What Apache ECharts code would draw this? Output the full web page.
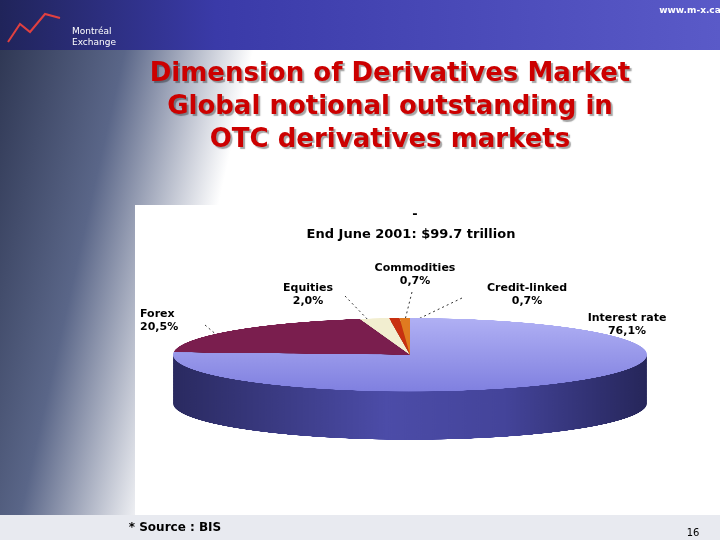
<!DOCTYPE html>
<html><head><meta charset="utf-8">
<script src="https://cdn.jsdelivr.net/npm/echarts@6/dist/echarts.min.js"></script>
<style>
body{margin:0;width:720px;height:540px;overflow:hidden;position:relative;background:#fff}
#bg{position:absolute;left:0;top:0;width:720px;height:540px}
#pie{position:absolute;left:0;top:316px;width:720px;height:1000px;transform:scaleY(0.155);transform-origin:0 0}
</style></head><body>
<div id="bg"></div><div id="pie"></div>
<script>
// data
let names = ['Interest rate', 'Forex', 'Equities', 'Commodities', 'Credit-linked']
let values = [76.1, 20.5, 2.0, 0.7, 0.7]
let labels = ['76,1%', '20,5%', '2,0%', '0,7%', '0,7%']
let topColors = ['#9494ec', '#7a1e4e', '#f2eed0', '#c83010', '#e07a20']
let sideColors = ['#3c3c8c', '#4a1030', '#b0aa88', '#801c08', '#a04e10']

let bg = echarts.init(document.getElementById('bg'))
let txt = (x, y, t, o) => Object.assign({type: 'text', x: x, y: y, style: Object.assign({text: t, fill: '#000', font: 'bold 11px "DejaVu Sans"', align: 'center', lineHeight: 13}, o || {})})
let dash = (x1, y1, x2, y2) => ({type: 'line', shape: {x1, y1, x2, y2}, style: {stroke: '#333', lineDash: [2, 3], lineWidth: 1}})
bg.setOption({
  graphic: [
    {type: 'rect', shape: {x: 0, y: 0, width: 720, height: 540}, style: {fill: new echarts.graphic.LinearGradient(0, 0, 1, 0.3, [{offset: 0, color: '#2c3450'}, {offset: 0.18, color: '#5a6688'}, {offset: 0.35, color: '#ffffff'}])}},
    {type: 'rect', shape: {x: 0, y: 0, width: 720, height: 50}, style: {fill: new echarts.graphic.LinearGradient(0, 0, 1, 0, [{offset: 0, color: '#20245a'}, {offset: 0.3, color: '#3a3aa8'}, {offset: 1, color: '#5a5ac8'}])}},
    {type: 'rect', shape: {x: 0, y: 515, width: 720, height: 25}, style: {fill: '#e8eaf0'}},
    {type: 'rect', shape: {x: 135, y: 205, width: 580, height: 310}, style: {fill: '#fff'}},
    txt(72, 26, 'Montréal\nExchange', {fill: '#fff', font: '9px "DejaVu Sans"', align: 'left', lineHeight: 11}),
    {type: 'polyline', shape: {points: [[8, 42], [20, 24], [30, 32], [45, 14], [60, 18]]}, style: {stroke: '#e04040', lineWidth: 2, fill: null}},
    txt(690, 4, 'www.m-x.ca', {fill: '#fff', font: 'bold 9px "DejaVu Sans"'}),
    txt(390, 58, 'Dimension of Derivatives Market\nGlobal notional outstanding in\nOTC derivatives markets', {fill: '#cc0000', font: 'bold 26px "DejaVu Sans"', lineHeight: 33, textShadowColor: 'rgba(0,0,0,0.35)', textShadowOffsetX: 2, textShadowOffsetY: 2, textShadowBlur: 1}),
    txt(415, 208, '-', {font: 'bold 13px "DejaVu Sans"'}),
    txt(411, 228, 'End June 2001: $99.7 trillion', {font: 'bold 13px "DejaVu Sans"'}),
    txt(140, 308, names[1] + '\n' + labels[1], {align: 'left'}),
    txt(308, 282, names[2] + '\n' + labels[2]),
    txt(415, 262, names[3] + '\n' + labels[3]),
    txt(527, 282, names[4] + '\n' + labels[4]),
    txt(627, 312, names[0] + '\n' + labels[0]),
    dash(205, 325, 225, 342),
    dash(345, 296, 372, 324),
    dash(412, 292, 405, 320),
    dash(462, 298, 412, 322),
    txt(175, 521, '* Source : BIS', {font: 'bold 12px "DejaVu Sans"'}),
    txt(693, 527, '16', {font: '10px "DejaVu Sans"'})
  ]
})

let sideGrad = new echarts.graphic.LinearGradient(0, 0, 1, 0, [
  {offset: 0, color: '#2a2a60'}, {offset: 0.45, color: '#4c4ca8'}, {offset: 0.7, color: '#44449a'}, {offset: 1, color: '#26265a'}])
let topGrad = new echarts.graphic.LinearGradient(0, 0, 0, 1, [
  {offset: 0, color: '#b0b0f4'}, {offset: 1, color: '#8080e0'}])
let pie = echarts.init(document.getElementById('pie'))
let series = []
for (let i = 16; i >= 0; i--) {
  let top = i === 0
  series.push({
    type: 'pie', silent: true, radius: 237, center: [410, 250 + i * 19.5],
    startAngle: 90, clockwise: true, animation: false,
    label: {show: false}, labelLine: {show: false},
    itemStyle: {borderWidth: 0},
    data: names.map((n, k) => ({name: n, value: values[k], itemStyle: {color: k === 0 ? (top ? topGrad : sideGrad) : (top ? topColors[k] : sideColors[k])}}))
  })
}
pie.setOption({series: series})
</script></body></html>
